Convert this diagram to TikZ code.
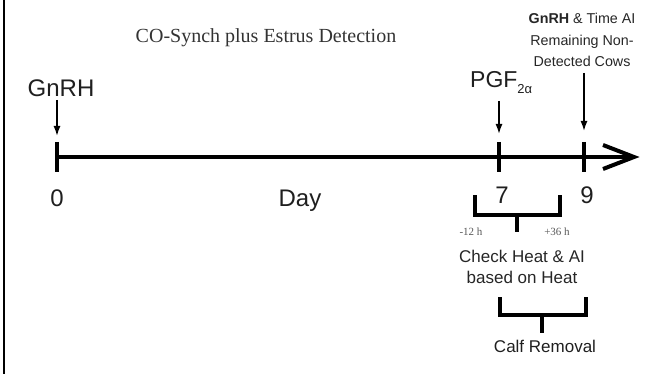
\documentclass[tikz,border=0pt]{standalone}
\usepackage{fontspec}
\setmainfont{Liberation Serif}
\newfontfamily\arial{Liberation Sans}
\usetikzlibrary{arrows.meta}
\begin{document}
\begin{tikzpicture}[x=1pt,y=-1pt,
  lbl/.style={font=\arial\fontsize{#1}{#1}\selectfont, inner sep=0pt, text=black!88},
  lines/.style={inner sep=0pt, align=center, text=black!85},
  smallarrow/.style={line width=1.6pt, -{Latex[length=10pt,width=7pt]}},
  axisline/.style={line width=4.5pt},
  tickmark/.style={line width=3.5pt},
  bracket/.style={line width=3.5pt, line join=miter},
  tiny/.style={font=\fontsize{11}{11}\selectfont, inner sep=0pt, text=black!65}]
\useasboundingbox (0,0) rectangle (666,374);
% left border
\draw[line width=2pt] (3.5,0) -- (3.5,374);
% title
\node[font=\fontsize{20}{20}\selectfont, text=black!80, inner sep=0pt] (title) at (266,38) {CO-Synch plus Estrus Detection};
% axis
\coordinate (axstart) at (57,157);
\coordinate (axend) at (634,157);
\coordinate (ahup) at (603,145);
\coordinate (ahdn) at (603,169);
\draw[axisline] (axstart) -- (630,157);
\draw[line width=4pt, line join=miter, line cap=butt] (ahup) -- (axend) -- (ahdn);
% ticks
\coordinate (t0a) at (57,142); \coordinate (t0b) at (57,172);
\coordinate (t7a) at (499,142); \coordinate (t7b) at (499,172);
\coordinate (t9a) at (584,142); \coordinate (t9b) at (584,172);
\draw[tickmark] (t0a) -- (t0b);
\draw[tickmark] (t7a) -- (t7b);
\draw[tickmark] (t9a) -- (t9b);
% day labels
\node[lbl=24, anchor=base] (d0) at (57,206) {0};
\node[lbl=24, anchor=base] (dday) at (300,206) {Day};
\node[lbl=24, anchor=base] (d7) at (502,204) {7};
\node[lbl=24, anchor=base] (d9) at (587,204) {9};
% treatment labels
\node[lbl=24] (gnrh) at (61,88) {GnRH};
\node[lbl=23, anchor=base west] (pgf) at (470,88) {PGF\raisebox{-0.45ex}{\fontsize{13}{13}\selectfont 2α}};
\node[lines, font=\arial\fontsize{14.3}{21.5}\selectfont] (final) at (582,40) {\textbf{GnRH} \& Time AI\\Remaining Non-\\Detected Cows};
% arrows to axis
\coordinate (g0) at (57,136);
\coordinate (p7) at (499,134);
\coordinate (f9) at (584,131);
\coordinate (g0s) at (57,100);
\coordinate (p7s) at (499,101);
\coordinate (f9s) at (584,73);
\draw[smallarrow] (g0s) -- (g0);
\draw[smallarrow] (p7s) -- (p7);
\draw[smallarrow] (f9s) -- (f9);
% heat detection bracket
\draw[bracket] (475,195) -- (475,215) -- (560,215) -- (560,195);
\coordinate (hb) at (517,215);
\coordinate (hs) at (517,232);
\draw[bracket] (hb) -- (hs);
\node[tiny] (m12) at (471,232) {-12 h};
\node[tiny] (p36) at (557,232) {+36 h};
\node[lines, font=\arial\fontsize{17}{21}\selectfont] (heat) at (522,267) {Check Heat \& AI\\based on Heat};
% calf removal bracket
\draw[bracket] (500,297) -- (500,315) -- (586,315) -- (586,297);
\coordinate (cb) at (542,315);
\coordinate (cs) at (542,333);
\draw[bracket] (cb) -- (cs);
\node[lbl=17] (calf) at (545,346) {Calf Removal};
\end{tikzpicture}
\end{document}
